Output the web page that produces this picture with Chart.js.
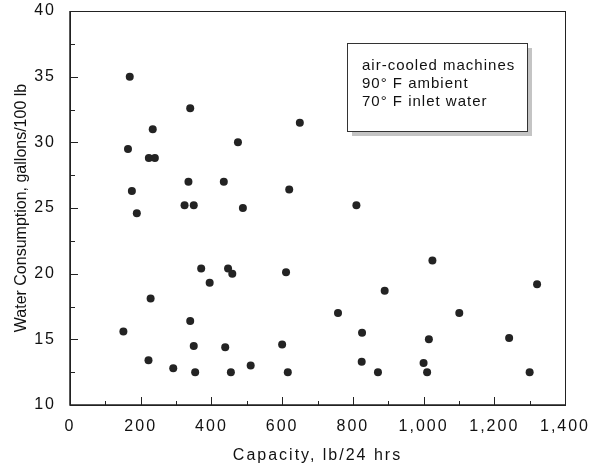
<!DOCTYPE html>
<html>
<head>
<meta charset="utf-8">
<script src="https://cdn.jsdelivr.net/npm/chart.js@4/dist/chart.umd.min.js"></script>
<style>
  html, body { margin: 0; padding: 0; background: #fff; }
  #wrap { width: 592px; height: 472px; }
</style>
</head>
<body>
<div id="wrap"><canvas id="iceChart" width="592" height="472"></canvas></div>
<script>
// ice machine data
const capacity = [169, 340, 650, 234, 164, 475, 223, 240, 335, 435, 175, 620, 324, 350, 489,
                  189, 371, 447, 459, 611, 395, 228, 340, 151, 350, 439, 600, 222, 292, 354, 455, 511, 616,
                  810, 1025, 1321, 890, 758, 1101, 826, 1015, 1242, 825, 1000, 871, 1010, 1300];
const consumption = [35.0, 32.6, 31.5, 31.0, 29.5, 30.0, 28.8, 28.8, 27.0, 27.0, 26.3, 26.4, 25.2, 25.2, 25.0,
                     24.6, 20.4, 20.4, 20.0, 20.1, 19.3, 18.1, 16.4, 15.6, 14.5, 14.4, 14.6, 13.4, 12.8, 12.5, 12.5, 13.0, 12.5,
                     25.2, 21.0, 19.2, 18.7, 17.0, 17.0, 15.5, 15.0, 15.1, 13.3, 13.2, 12.5, 12.5, 12.5];
const xTitle = 'Capacity, lb/24 hrs';
const yTitle = 'Water Consumption, gallons/100 lb';
const noteLines = ['air-cooled machines', '90° F ambient', '70° F inlet water'];

const FONT = '"Liberation Sans", Arial, sans-serif';
const ink = '#111';

const points = capacity.map((c, i) => ({ x: c, y: consumption[i] }));

// wide text like the original
const spacing = {
    id: 'spacing',
    beforeLayout(chart) { chart.ctx.letterSpacing = '2px'; },
    afterLayout(chart) {
        const ys = chart.scales.y;
        if (ys && !ys._patched) {
            const orig = ys.drawTitle.bind(ys);
            ys.drawTitle = function() {
                const c = this.ctx;
                const s = c.letterSpacing;
                c.letterSpacing = '0px';
                orig();
                c.letterSpacing = s;
            };
            ys._patched = true;
        }
    },
    beforeDraw(chart) { chart.ctx.letterSpacing = '2px'; }
};

// frame, inward ticks and the note box
const frame = {
    id: 'frame',
    afterDraw(chart) {
        const ctx = chart.ctx;
        const a = chart.chartArea;
        const xs = chart.scales.x, ys = chart.scales.y;
        ctx.save();
        ctx.strokeStyle = '#222';
        ctx.lineWidth = 1;
        ctx.strokeRect(a.left + 0.5, a.top + 0.5, a.right - a.left, a.bottom - a.top);
        ctx.lineWidth = 1.5;
        ctx.beginPath();
        ctx.moveTo(a.left, a.top);
        ctx.lineTo(a.left, a.bottom);
        ctx.lineTo(a.right, a.bottom);
        ctx.stroke();

        ctx.lineWidth = 1;
        ctx.beginPath();
        xs.ticks.forEach(t => {
            const px = Math.round(xs.getPixelForValue(t.value)) + 0.5;
            const len = t.value % 200 === 0 ? 8 : 4;
            ctx.moveTo(px, a.bottom);
            ctx.lineTo(px, a.bottom - len);
        });
        ys.ticks.forEach(t => {
            const py = Math.round(ys.getPixelForValue(t.value)) + 0.5;
            const len = t.value % 5 === 0 ? 8 : 5;
            ctx.moveTo(a.left, py);
            ctx.lineTo(a.left + len, py);
        });
        ctx.stroke();

        // note box with shadow
        const bx = 347, by = 43, bw = 180, bh = 88;
        ctx.fillStyle = '#c4c4c4';
        ctx.fillRect(bx + 5, by + 5, bw, bh);
        ctx.fillStyle = '#fff';
        ctx.fillRect(bx, by, bw, bh);
        ctx.strokeStyle = '#333';
        ctx.strokeRect(bx + 0.5, by + 0.5, bw, bh);
        ctx.fillStyle = ink;
        ctx.font = '15px ' + FONT;
        ctx.letterSpacing = '1px';
        ctx.textBaseline = 'middle';
        noteLines.forEach((line, i) => {
            ctx.fillText(line, bx + 15, by + 23 + i * 18);
        });
        ctx.restore();
    }
};

const ctx = document.getElementById('iceChart').getContext('2d');
const iceChart = new Chart(ctx, {
    type: 'scatter',
    data: {
        datasets: [{
            data: points,
            backgroundColor: '#232323',
            borderWidth: 0,
            pointRadius: 4,
            pointHoverRadius: 4
        }]
    },
    options: {
        responsive: false,
        animation: false,
        events: [],
        layout: { padding: { top: 11, right: 27, left: 0, bottom: 0 } },
        plugins: {
            legend: { display: false },
            tooltip: { enabled: false }
        },
        scales: {
            x: {
                type: 'linear',
                min: 0,
                max: 1400,
                grid: { display: false, drawTicks: false },
                border: { display: false },
                afterFit(scale) {
                    scale.height = 67;
                    scale.paddingLeft = 0;
                    scale.paddingRight = 0;
                },
                ticks: {
                    stepSize: 100,
                    autoSkip: false,
                    maxRotation: 0,
                    padding: 12,
                    color: ink,
                    font: { size: 16, family: FONT },
                    callback: v => v % 200 === 0 ? v.toLocaleString('en-US') : ''
                },
                title: {
                    display: true,
                    text: xTitle,
                    color: ink,
                    font: { size: 16, family: FONT },
                    padding: { top: 6, bottom: 7 }
                }
            },
            y: {
                type: 'linear',
                min: 10,
                max: 40,
                grid: { display: false, drawTicks: false },
                border: { display: false },
                afterFit(scale) {
                    scale.width = 70;
                    scale.paddingTop = 0;
                    scale.paddingBottom = 0;
                },
                ticks: {
                    stepSize: 2.5,
                    autoSkip: false,
                    padding: 14,
                    color: ink,
                    font: { size: 16, family: FONT },
                    callback: v => v % 5 === 0 ? v : ''
                },
                title: {
                    display: true,
                    text: yTitle,
                    color: ink,
                    font: { size: 16, family: FONT },
                    padding: { top: 12, bottom: 2 }
                }
            }
        }
    },
    plugins: [spacing, frame]
});
</script>
</body>
</html>
